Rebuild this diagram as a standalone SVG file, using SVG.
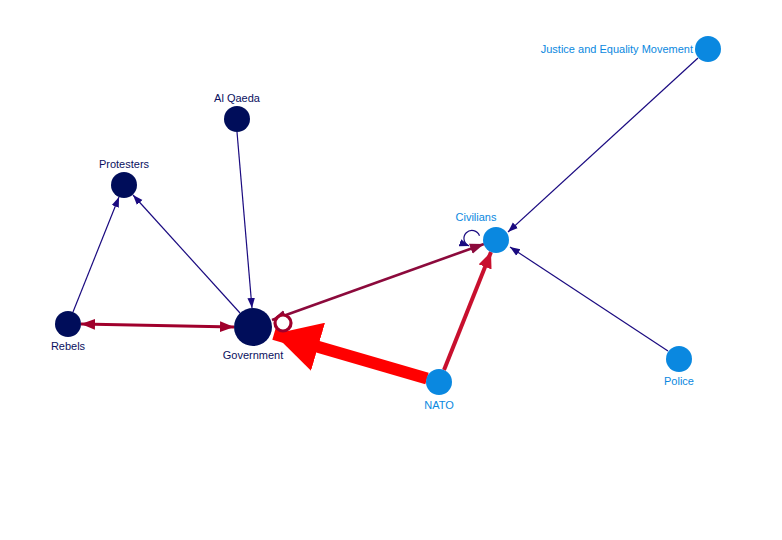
<svg xmlns="http://www.w3.org/2000/svg" width="782" height="540" viewBox="0 0 782 540">
<style>
.lbl{font-family:"Liberation Sans",Arial,sans-serif;font-size:11px;text-anchor:middle}
.dk{fill:#0a1060}
.lt{fill:#0a88e0}
.nd{fill:#000d5a}
.nl{fill:#0a88e0}
.thin{stroke:#1a0a80;stroke-width:1.2;fill:none}
.mid{stroke:#a0002c;stroke-width:3;fill:none}
.mid2{stroke:#8c0a3c;stroke-width:2.6;fill:none}
</style>
<defs>
<marker id="aN" markerUnits="userSpaceOnUse" markerWidth="10" markerHeight="10" refX="8" refY="3" orient="auto-start-reverse" viewBox="0 0 8 6"><path d="M0,0L8,3L0,6Z" fill="#1a0a80"/></marker>
<marker id="aR" markerUnits="userSpaceOnUse" markerWidth="14" markerHeight="12" refX="13" refY="5" orient="auto-start-reverse" viewBox="0 0 13 10"><path d="M0,0L13,5L0,10Z" fill="#a0002c"/></marker>
<marker id="aR2" markerUnits="userSpaceOnUse" markerWidth="14" markerHeight="12" refX="13" refY="5" orient="auto-start-reverse" viewBox="0 0 13 10"><path d="M0,0L13,5L0,10Z" fill="#8c0a3c"/></marker>
<marker id="aC" markerUnits="userSpaceOnUse" markerWidth="16" markerHeight="14" refX="15" refY="6.5" orient="auto" viewBox="0 0 15 13"><path d="M0,0L15,6.5L0,13Z" fill="#c8102e"/></marker>
<marker id="aB" markerUnits="userSpaceOnUse" markerWidth="46" markerHeight="50" refX="44" refY="24" orient="auto" viewBox="0 0 44 48"><path d="M0,0L44,24L0,48Z" fill="#ff0000"/></marker>
</defs>
<g id="edges">
<line class="thin" x1="237" y1="132" x2="252" y2="308" marker-end="url(#aN)"/>
<line class="thin" x1="240" y1="313" x2="133" y2="195" marker-end="url(#aN)"/>
<line class="thin" x1="73" y1="312" x2="119" y2="197" marker-end="url(#aN)"/>
<line class="thin" x1="698" y1="58" x2="508" y2="232" marker-end="url(#aN)"/>
<line class="thin" x1="668" y1="351" x2="510" y2="247" marker-end="url(#aN)"/>
<path class="thin" d="M479.5,235.8 A8,8 0 1 0 469.3,246" marker-end="url(#aN)"/>
<line class="mid" x1="81" y1="324" x2="234" y2="327" marker-start="url(#aR)" marker-end="url(#aR)"/>
<line class="mid2" x1="272" y1="320" x2="484" y2="244" marker-start="url(#aR2)" marker-end="url(#aR2)"/>
<line x1="444" y1="370" x2="491" y2="252" stroke="#c8102e" stroke-width="4" marker-end="url(#aC)"/>
<line x1="427" y1="378.5" x2="274" y2="334" stroke="#ff0000" stroke-width="12" marker-end="url(#aB)"/>
<circle cx="283" cy="323" r="8" fill="#ffffff" stroke="#a0002c" stroke-width="3.2"/>
</g>
<g id="n-government"><circle class="nd" cx="253" cy="327" r="19"/><text class="lbl dk" x="253" y="359">Government</text></g>
<g id="n-rebels"><circle class="nd" cx="68" cy="324" r="13"/><text class="lbl dk" x="68" y="350">Rebels</text></g>
<g id="n-protesters"><circle class="nd" cx="124" cy="185" r="13"/><text class="lbl dk" x="124" y="168">Protesters</text></g>
<g id="n-alqaeda"><circle class="nd" cx="237" cy="119" r="13"/><text class="lbl dk" x="237" y="102">Al Qaeda</text></g>
<g id="n-civilians"><circle class="nl" cx="496" cy="240" r="13"/><text class="lbl lt" x="476" y="221">Civilians</text></g>
<g id="n-jem"><circle class="nl" cx="708" cy="49" r="13"/><text class="lbl lt" x="693" y="53" style="text-anchor:end">Justice and Equality Movement</text></g>
<g id="n-police"><circle class="nl" cx="679" cy="359" r="13"/><text class="lbl lt" x="679" y="385">Police</text></g>
<g id="n-nato"><circle class="nl" cx="439" cy="382" r="13"/><text class="lbl lt" x="439" y="409">NATO</text></g>
</svg>
